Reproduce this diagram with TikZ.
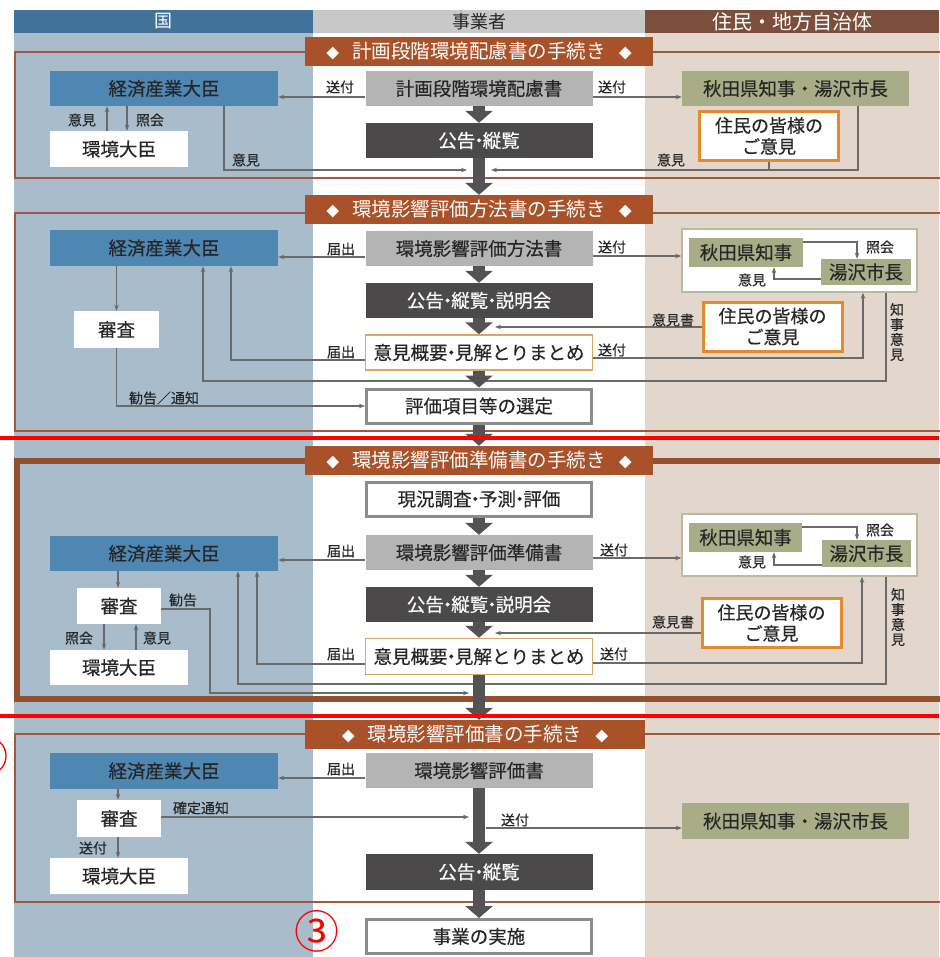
\documentclass[tikz,border=0pt]{standalone}
\usepackage{fontspec}
\setmainfont{Noto Sans CJK JP}
\newfontfamily\bxf[FakeBold=0.35]{Noto Sans CJK JP}
\usetikzlibrary{arrows.meta}
\definecolor{bgL}{HTML}{A9BCCB}
\definecolor{bgR}{HTML}{E3D6CC}
\definecolor{hdL}{HTML}{41729A}
\definecolor{hdM}{HTML}{C8C8C8}
\definecolor{hdR}{HTML}{7C4F3D}
\definecolor{ban}{HTML}{A9522A}
\definecolor{frm}{HTML}{9C5B3E}
\definecolor{frmt}{HTML}{93502E}
\definecolor{blu}{HTML}{4F87B3}
\definecolor{lgr}{HTML}{B4B4B4}
\definecolor{dgr}{HTML}{4B4949}
\definecolor{olv}{HTML}{A9AD87}
\definecolor{org}{HTML}{E38A2E}
\definecolor{orgl}{HTML}{D9A66E}
\definecolor{gbd}{HTML}{8C8C8C}
\definecolor{obd}{HTML}{B8BB9E}
\definecolor{cn}{HTML}{6A6A6A}
\definecolor{flw}{HTML}{545252}
\definecolor{tx}{HTML}{262626}
\newcommand\bann[1]{{\fontsize{13}{13}\selectfont ◆}\hspace{13pt}#1\hspace{13pt}{\fontsize{13}{13}\selectfont ◆}}
\newcommand\nd{\hspace{-0.3em}・\hspace{-0.3em}}
\tikzset{
 box/.style={rectangle, inner sep=0pt, minimum height=35pt, text=tx, font=\bxf\fontsize{18.5}{20}\selectfont},
 mid/.style={box, minimum width=227pt},
 lgbox/.style={mid, fill=lgr},
 dkbox/.style={mid, fill=dgr, text=white},
 wbox/.style={mid, fill=white, draw=gbd, line width=3pt, minimum width=225pt, minimum height=34pt},
 obox/.style={mid, fill=white, draw=orgl, line width=1.5pt},
 mbox/.style={box, fill=blu, minimum width=228pt, text=black!85},
 kbox/.style={box, fill=white, minimum width=138pt},
 sbox/.style={box, fill=white, minimum width=84pt},
 gbox/.style={box, fill=olv},
 jbox/.style={box, fill=white, draw=org, line width=3pt, minimum width=139pt, minimum height=49pt, align=center, font=\bxf\fontsize{18}{21}\selectfont},
 outerbox/.style={rectangle, fill=white, draw=obd, line width=1.5pt, inner sep=0pt, minimum width=235pt, minimum height=62pt},
 banner/.style={rectangle, fill=ban, text=white, inner sep=0pt, minimum width=348pt, minimum height=29pt, font=\fontsize{19.5}{20}\selectfont},
 hdr/.style={rectangle, inner sep=0pt, minimum height=23pt, font=\fontsize{18}{20}\selectfont},
 conn/.style={draw=cn, line width=1.2pt, -{Stealth[length=6pt,width=4.5pt]}},
 plainln/.style={draw=cn, line width=1.2pt},
 lbl/.style={inner sep=0pt, text=tx, font=\bxf\fontsize{14}{15}\selectfont},
 frame/.style={draw=frm, line width=2pt},
 flow/.style={draw=flw, line width=12pt, -{Triangle[width=27pt,length=12pt]}},
}
\begin{document}
\begin{tikzpicture}[x=1pt,y=-1pt]
\useasboundingbox (0,0) rectangle (939,957);
\fill[white] (0,0) rectangle (939,957);
\fill[bgL] (14,10) rectangle (313,957);
\fill[bgR] (645,10) rectangle (939,957);
\node[hdr, fill=hdL, minimum width=299pt, text=white] (hL) at (163.5,21.5) {国};
\node[hdr, fill=hdM, minimum width=332pt, text=tx] (hM) at (479,21.5) {事業者};
\node[hdr, fill=hdR, minimum width=294pt, text=white, font=\fontsize{20}{20}\selectfont] (hR) at (792,21.5) {住民・地方自治体};
% frames
\draw[frame] (15,52) rectangle (950,178);
\draw[frame] (15,213) rectangle (950,431);
\draw[draw=frmt, line width=6pt] (17,461) rectangle (950,699);
\draw[frame] (15,734) rectangle (950,902);
% ---------- section 1
\node[banner] (b1) at (479,51.5) {\bann{計画段階環境配慮書の手続き}};
\node[mbox] (m1) at (164,88.5) {経済産業大臣};
\node[kbox, minimum height=36pt] (k1) at (119,149) {環境大臣};
\node[lgbox] (p1) at (479,88.5) {計画段階環境配慮書};
\node[dkbox] (c1) at (479,140.5) {公告\nd 縦覧};
\node[gbox, minimum width=227pt] (a1) at (795.5,88.5) {秋田県知事・湯沢市長};
\node[jbox] (j1) at (769,136) {住民の皆様の\\ご意見};
% ---------- section 2
\node[banner] (b2) at (479,209.5) {\bann{環境影響評価方法書の手続き}};
\node[mbox, minimum height=36pt] (m2) at (164,248) {経済産業大臣};
\node[sbox, minimum width=85pt, minimum height=37pt] (s2) at (116.5,329.5) {審査};
\node[lgbox] (p2) at (479,248.5) {環境影響評価方法書};
\node[dkbox] (c2) at (479,300.5) {公告\nd 縦覧\nd 説明会};
\node[obox] (e2) at (479,352.5) {意見概要\nd 見解とりまとめ};
\node[wbox] (v2) at (479,406) {評価項目等の選定};
\node[outerbox, minimum height=63pt] (o2) at (799.5,260.5) {};
\node[gbox, minimum width=114pt, minimum height=29pt] (g2) at (746,252.5) {秋田県知事};
\node[gbox, minimum width=90pt, minimum height=26pt] (y2) at (866,272) {湯沢市長};
\node[jbox] (j2) at (772.5,326.5) {住民の皆様の\\ご意見};
% ---------- section 3
\node[banner] (b3) at (479,460.5) {\bann{環境影響評価準備書の手続き}};
\node[wbox] (w3) at (479,499) {現況調査\nd 予測\nd 評価};
\node[lgbox] (p3) at (479,552.5) {環境影響評価準備書};
\node[dkbox] (c3) at (479,604.5) {公告\nd 縦覧\nd 説明会};
\node[obox, minimum height=36pt] (e3) at (479,656.5) {意見概要\nd 見解とりまとめ};
\node[mbox] (m3) at (164,553.5) {経済産業大臣};
\node[sbox, minimum height=36pt] (s3) at (119,606) {審査};
\node[kbox] (k3) at (119,667.5) {環境大臣};
\node[outerbox] (o3) at (799.5,545) {};
\node[gbox, minimum width=113pt, minimum height=29pt] (g3) at (745.5,537.5) {秋田県知事};
\node[gbox, minimum width=89pt, minimum height=27pt] (y3) at (866.5,553.5) {湯沢市長};
\node[jbox] (j3) at (771.5,623) {住民の皆様の\\ご意見};
% ---------- section 4
\node[banner, minimum width=340pt] (b4) at (475,734.5) {\bann{環境影響評価書の手続き}};
\node[mbox, minimum height=36pt] (m4) at (164,771) {経済産業大臣};
\node[sbox, minimum height=37pt] (s4) at (119,818.5) {審査};
\node[kbox, minimum height=36pt] (k4) at (119,876) {環境大臣};
\node[lgbox] (p4) at (479,770.5) {環境影響評価書};
\node[dkbox, minimum height=36pt] (c4) at (479,872) {公告\nd 縦覧};
\node[wbox] (x4) at (479,936.5) {事業の実施};
\node[gbox, minimum width=227pt, minimum height=36pt] (a4) at (795.5,821) {秋田県知事・湯沢市長};
% ---------- free ends
\coordinate (q1L) at (467,170);
\coordinate (q1R) at (491,170);
\coordinate (q2a) at (495,327);
\coordinate (q3a) at (495,633);
\coordinate (q3k) at (469,693);
\coordinate (q4k) at (469,817);
\coordinate (q4s) at (486,828);
% ---------- connectors S1
\draw[conn] (p1.west |- 0,97) -- (m1.east |- 0,97);
\node[lbl] at (340,87) {送付};
\draw[conn] (p1.east |- 0,97) -- (a1.west |- 0,97);
\node[lbl] at (612,87) {送付};
\draw[conn] (k1.north -| 107,0) -- (m1.south -| 107,0);
\draw[conn] (m1.south -| 127,0) -- (k1.north -| 127,0);
\node[lbl] at (82,120) {意見};
\node[lbl] at (150,120) {照会};
\draw[conn] (m1.south -| 224,0) |- (q1L);
\node[lbl] at (246,160) {意見};
\draw[conn] (a1.south -| 858,0) |- (q1R);
\draw[plainln] (j1.south) -- (j1.south |- q1R);
\node[lbl] at (671,160) {意見};
% ---------- connectors S2
\draw[conn] (p2.west |- 0,257) -- (m2.east |- 0,257);
\node[lbl] at (341,249) {届出};
\draw[conn] (p2.east |- 0,256) -- (o2.west |- 0,256);
\node[lbl] at (612,247) {送付};
\draw[conn] (m2.south -| 116.5,0) -- (s2.north);
\draw[conn] (s2.south) |- (v2.west);
\node[lbl] at (164,398) {勧告／通知};
\draw[conn] (e2.west |- 0,360) -| (m2.south -| 231,0);
\node[lbl] at (341,352) {届出};
\draw[conn] (o2.south -| 886,0) |- (203,381) -- (m2.south -| 203,0);
\node[lbl, align=center] at (897,332) {知\\事\\意\\見};
\draw[conn] (g2.east |- 0,242) -| (y2.north -| 857,0);
\node[lbl] at (880,247) {照会};
\draw[conn] (y2.west |- 0,279) -| (g2.south -| 774,0);
\node[lbl] at (752,280) {意見};
\draw[conn] (j2.west |- 0,327) -- (q2a);
\node[lbl] at (673,320) {意見書};
\draw[conn] (e2.east |- 0,358) -| (o2.south -| 863,0);
\node[lbl] at (612,350) {送付};
% ---------- connectors S3
\draw[conn] (p3.west |- 0,560) -- (m3.east |- 0,560);
\node[lbl] at (341,551) {届出};
\draw[conn] (p3.east |- 0,558) -- (o3.west |- 0,558);
\node[lbl] at (614,550) {送付};
\draw[conn] (m3.south -| 118,0) -- (s3.north -| 118,0);
\draw[conn] (s3.south -| 104,0) -- (k3.north -| 104,0);
\node[lbl] at (79,638) {照会};
\draw[conn] (k3.north -| 136,0) -- (s3.south -| 136,0);
\node[lbl] at (157,638) {意見};
\draw[conn] (s3.east |- 0,609) -| (210,693) -- (q3k);
\node[lbl] at (183,600) {勧告};
\draw[conn] (e3.west |- 0,664) -| (m3.south -| 257,0);
\node[lbl] at (341,654) {届出};
\draw[conn] (o3.south -| 886,0) |- (238,684) -- (m3.south -| 238,0);
\node[lbl, align=center] at (898,617) {知\\事\\意\\見};
\draw[conn] (g3.east |- 0,527) -| (y3.north -| 857,0);
\node[lbl] at (880,530) {照会};
\draw[conn] (y3.west |- 0,565) -| (g3.south -| 774,0);
\node[lbl] at (752,562) {意見};
\draw[conn] (j3.west |- 0,633) -- (q3a);
\node[lbl] at (673,622) {意見書};
\draw[conn] (e3.east |- 0,663) -| (o3.south -| 862,0);
\node[lbl] at (614,654) {送付};
% ---------- connectors S4
\draw[conn] (p4.west |- 0,778) -- (m4.east |- 0,778);
\node[lbl] at (341,769) {届出};
\draw[conn] (m4.south -| 118,0) -- (s4.north -| 118,0);
\draw[conn] (s4.south -| 118,0) -- (k4.north -| 118,0);
\node[lbl] at (93,848) {送付};
\draw[conn] (s4.east |- 0,817) -- (q4k);
\node[lbl] at (201,808) {確定通知};
\draw[conn] (q4s) -- (a4.west |- q4s);
\node[lbl] at (515,820) {送付};
% ---------- flow arrows
\draw[flow] (p1.south) -- (c1.north);
\draw[flow] (c1.south) -- (b2.north);
\draw[flow] (p2.south) -- (c2.north);
\draw[flow] (c2.south) -- (e2.north);
\draw[flow] (e2.south) -- (v2.north);
\draw[flow] (v2.south) -- (b3.north);
\draw[flow] (w3.south) -- (p3.north);
\draw[flow] (p3.south) -- (c3.north);
\draw[flow] (c3.south) -- (e3.north);
\draw[flow] (e3.south) -- (b4.north -| 479,0);
\draw[flow] (p4.south) -- (c4.north);
\draw[flow] (c4.south) -- (x4.north);
% ---------- red annotations
\draw[red, line width=4pt] (0,437.5) -- (939,437.5);
\draw[red, line width=4pt] (0,716) -- (939,716);
\node[text=red, font=\fontsize{45}{45}\selectfont, inner sep=0pt] (n3) at (317,931) {③};
\draw[red, line width=1.3pt] (-13,756) circle (19pt);
\end{tikzpicture}
\end{document}
